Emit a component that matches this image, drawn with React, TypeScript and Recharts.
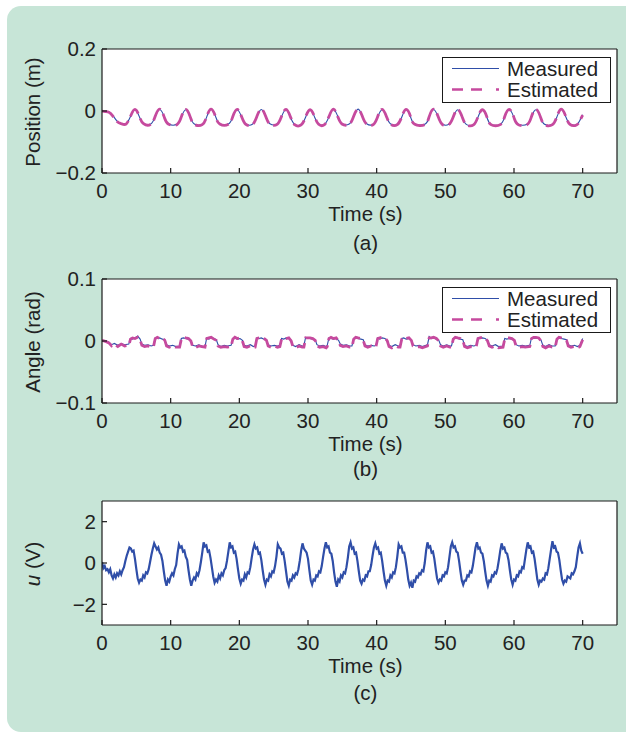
import React from 'react'
import { LineChart, Line, XAxis, YAxis, CartesianGrid, Legend } from 'recharts'

const FONT = '"Liberation Sans", Arial, Helvetica, sans-serif'
const TEXT = '#222'
const FRAME = '#1a1a1a'
const BLUE = '#2f4ea8'
const MAGENTA = '#c64a9e'
const PANEL = '#c7e5d7'
const FS = 20.5

const TIME_TICKS = [0, 10, 20, 30, 40, 50, 60, 70]
const POS_TICKS = [-0.2, 0, 0.2]
const ANGLE_TICKS = [-0.1, 0, 0.1]
const U_TICKS = [-2, 0, 2]

// (a) cart position, m
const posTime = [
  0, 0.5, 1.0, 1.5, 2.2, 2.8, 3.5, 4.15, 4.8, 5.45, 6.05,
  7.1, 7.75, 8.4, 9.05, 9.65,
  10.9, 11.55, 12.2, 12.85, 13.45,
  14.6, 15.25, 15.9, 16.55, 17.15,
  18.4, 19.05, 19.7, 20.35, 20.95,
  21.9, 22.55, 23.2, 23.85, 24.45,
  25.5, 26.15, 26.8, 27.45, 28.05,
  29.0, 29.65, 30.3, 30.95, 31.55,
  32.4, 33.05, 33.7, 34.35, 34.95,
  36.0, 36.65, 37.3, 37.95, 38.55,
  39.5, 40.15, 40.8, 41.45, 42.05,
  43.0, 43.65, 44.3, 44.95, 45.55,
  47.0, 47.65, 48.3, 48.95, 49.55,
  50.5, 51.15, 51.8, 52.45, 53.05,
  54.1, 54.75, 55.4, 56.05, 56.65,
  58.0, 58.65, 59.3, 59.95, 60.55,
  61.9, 62.55, 63.2, 63.85, 64.45,
  65.6, 66.25, 66.9, 67.55, 68.15,
  69.1, 69.6, 70.0,
]
const posMeasured = [
  0.0, -0.001, -0.003, -0.012, -0.033, -0.04, -0.041, -0.018, 0.004, -0.019, -0.04,
  -0.042, -0.018, 0.005, -0.018, -0.041,
  -0.043, -0.02, 0.004, -0.02, -0.042,
  -0.043, -0.019, 0.006, -0.018, -0.041,
  -0.042, -0.019, 0.004, -0.02, -0.042,
  -0.043, -0.019, 0.005, -0.019, -0.041,
  -0.042, -0.018, 0.004, -0.02, -0.043,
  -0.044, -0.02, 0.003, -0.019, -0.042,
  -0.043, -0.019, 0.005, -0.018, -0.041,
  -0.042, -0.018, 0.006, -0.018, -0.041,
  -0.043, -0.019, 0.004, -0.02, -0.042,
  -0.043, -0.02, 0.004, -0.02, -0.042,
  -0.043, -0.019, 0.005, -0.019, -0.042,
  -0.043, -0.02, 0.004, -0.02, -0.043,
  -0.044, -0.02, 0.003, -0.02, -0.043,
  -0.043, -0.019, 0.004, -0.019, -0.042,
  -0.043, -0.019, 0.004, -0.02, -0.043,
  -0.043, -0.019, 0.005, -0.019, -0.042,
  -0.044, -0.03, -0.012,
]
const posEstimated = [
  0.0, -0.002, -0.004, -0.014, -0.034, -0.041, -0.042, -0.017, 0.005, -0.018, -0.041,
  -0.043, -0.017, 0.006, -0.019, -0.042,
  -0.044, -0.019, 0.005, -0.019, -0.043,
  -0.044, -0.018, 0.006, -0.019, -0.042,
  -0.043, -0.018, 0.005, -0.019, -0.043,
  -0.044, -0.018, 0.006, -0.018, -0.042,
  -0.043, -0.017, 0.005, -0.019, -0.044,
  -0.045, -0.019, 0.004, -0.018, -0.043,
  -0.044, -0.018, 0.006, -0.019, -0.042,
  -0.043, -0.017, 0.006, -0.019, -0.042,
  -0.044, -0.018, 0.005, -0.019, -0.043,
  -0.044, -0.019, 0.005, -0.019, -0.043,
  -0.044, -0.018, 0.006, -0.018, -0.043,
  -0.044, -0.019, 0.005, -0.019, -0.044,
  -0.045, -0.019, 0.004, -0.019, -0.044,
  -0.044, -0.018, 0.005, -0.018, -0.043,
  -0.044, -0.018, 0.005, -0.019, -0.044,
  -0.044, -0.018, 0.006, -0.018, -0.043,
  -0.045, -0.031, -0.013,
]

// (b) pendulum angle, rad
const angleTime = [
  0, 0.6, 1.0, 1.4, 1.8, 2.3, 2.8, 3.3,
  3.9, 4.15, 4.45, 4.8, 5.2, 5.55, 5.8, 6.2, 6.7, 7.15,
  7.5, 7.75, 8.05, 8.4, 8.8, 9.15, 9.4, 9.8, 10.3, 10.75,
  11.3, 11.55, 11.85, 12.2, 12.6, 12.95, 13.2, 13.6, 14.1, 14.55,
  15.0, 15.25, 15.55, 15.9, 16.3, 16.65, 16.9, 17.3, 17.8, 18.25,
  18.8, 19.05, 19.35, 19.7, 20.1, 20.45, 20.7, 21.1, 21.6, 22.05,
  22.3, 22.55, 22.85, 23.2, 23.6, 23.95, 24.2, 24.6, 25.1, 25.55,
  25.9, 26.15, 26.45, 26.8, 27.2, 27.55, 27.8, 28.2, 28.7, 29.15,
  29.4, 29.65, 29.95, 30.3, 30.7, 31.05, 31.3, 31.7, 32.2, 32.65,
  32.8, 33.05, 33.35, 33.7, 34.1, 34.45, 34.7, 35.1, 35.6, 36.05,
  36.4, 36.65, 36.95, 37.3, 37.7, 38.05, 38.3, 38.7, 39.2, 39.65,
  39.9, 40.15, 40.45, 40.8, 41.2, 41.55, 41.8, 42.2, 42.7, 43.15,
  43.4, 43.65, 43.95, 44.3, 44.7, 45.05, 45.3, 45.7, 46.2, 46.65,
  47.4, 47.65, 47.95, 48.3, 48.7, 49.05, 49.3, 49.7, 50.2, 50.65,
  50.9, 51.15, 51.45, 51.8, 52.2, 52.55, 52.8, 53.2, 53.7, 54.15,
  54.5, 54.75, 55.05, 55.4, 55.8, 56.15, 56.4, 56.8, 57.3, 57.75,
  58.4, 58.65, 58.95, 59.3, 59.7, 60.05, 60.3, 60.7, 61.2, 61.65,
  62.3, 62.55, 62.85, 63.2, 63.6, 63.95, 64.2, 64.6, 65.1, 65.55,
  66.0, 66.25, 66.55, 66.9, 67.3, 67.65, 67.9, 68.3, 68.8, 69.25,
  69.6, 70.0,
]
const angleMeasured = [
  0.0, 0.0, -0.002, -0.006, -0.004, -0.007, -0.004, -0.006,
  -0.005, 0.004, 0.003, 0.005, 0.008, 0.003, -0.005, -0.007, -0.006, -0.008,
  -0.007, 0.005, 0.004, 0.005, 0.003, 0.002, -0.006, -0.008, -0.007, -0.009,
  -0.008, 0.004, 0.005, 0.004, 0.003, 0.001, -0.007, -0.008, -0.006, -0.008,
  -0.009, 0.005, 0.003, 0.005, 0.004, 0.002, -0.006, -0.009, -0.007, -0.008,
  -0.007, 0.004, 0.005, 0.003, 0.004, 0.001, -0.007, -0.008, -0.006, -0.009,
  -0.008, 0.005, 0.004, 0.005, 0.003, 0.002, -0.006, -0.008, -0.007, -0.008,
  -0.007, 0.004, 0.003, 0.005, 0.004, 0.001, -0.007, -0.009, -0.006, -0.008,
  -0.008, 0.006, 0.004, 0.004, 0.003, 0.002, -0.006, -0.008, -0.007, -0.009,
  -0.007, 0.005, 0.004, 0.003, 0.004, 0.001, -0.005, -0.007, -0.006, -0.008,
  -0.008, 0.004, 0.005, 0.004, 0.003, 0.002, -0.006, -0.008, -0.007, -0.008,
  -0.007, 0.005, 0.003, 0.005, 0.004, 0.001, -0.007, -0.009, -0.006, -0.008,
  -0.008, 0.004, 0.005, 0.003, 0.004, 0.002, -0.006, -0.008, -0.007, -0.009,
  -0.006, 0.007, 0.004, 0.005, 0.003, 0.001, -0.006, -0.008, -0.006, -0.008,
  -0.008, 0.004, 0.005, 0.004, 0.003, 0.002, -0.007, -0.009, -0.007, -0.008,
  -0.007, 0.005, 0.004, 0.005, 0.004, 0.001, -0.006, -0.008, -0.006, -0.009,
  -0.008, 0.004, 0.003, 0.004, 0.003, 0.002, -0.006, -0.008, -0.007, -0.008,
  -0.007, 0.005, 0.004, 0.005, 0.004, 0.001, -0.007, -0.009, -0.006, -0.008,
  -0.008, 0.004, 0.005, 0.004, 0.003, 0.002, -0.006, -0.008, -0.007, -0.009,
  -0.007, 0.004,
]
const angleEstimated = [
  0.001, -0.001, -0.003, -0.008, -0.005, -0.009, -0.005, -0.008,
  -0.007, 0.003, 0.005, 0.004, 0.006, 0.002, -0.007, -0.009, -0.008, -0.01,
  -0.009, 0.004, 0.006, 0.004, 0.005, 0.001, -0.008, -0.01, -0.008, -0.01,
  -0.01, 0.003, 0.006, 0.005, 0.004, 0.0, -0.009, -0.011, -0.008, -0.009,
  -0.01, 0.004, 0.005, 0.006, 0.003, 0.001, -0.008, -0.01, -0.009, -0.01,
  -0.009, 0.003, 0.006, 0.004, 0.005, 0.0, -0.009, -0.01, -0.008, -0.011,
  -0.01, 0.004, 0.005, 0.006, 0.004, 0.001, -0.008, -0.01, -0.008, -0.01,
  -0.009, 0.003, 0.005, 0.004, 0.005, 0.0, -0.009, -0.011, -0.008, -0.01,
  -0.01, 0.005, 0.005, 0.005, 0.004, 0.001, -0.008, -0.01, -0.009, -0.011,
  -0.009, 0.004, 0.006, 0.004, 0.005, 0.0, -0.007, -0.009, -0.008, -0.01,
  -0.01, 0.003, 0.006, 0.005, 0.004, 0.001, -0.008, -0.01, -0.008, -0.01,
  -0.009, 0.004, 0.005, 0.006, 0.005, 0.0, -0.009, -0.011, -0.008, -0.01,
  -0.01, 0.003, 0.006, 0.004, 0.005, 0.001, -0.008, -0.01, -0.009, -0.011,
  -0.008, 0.005, 0.005, 0.006, 0.004, 0.0, -0.008, -0.01, -0.008, -0.01,
  -0.01, 0.003, 0.006, 0.005, 0.004, 0.001, -0.009, -0.011, -0.009, -0.01,
  -0.009, 0.004, 0.005, 0.006, 0.005, 0.0, -0.008, -0.01, -0.008, -0.011,
  -0.01, 0.003, 0.005, 0.005, 0.004, 0.001, -0.008, -0.01, -0.009, -0.01,
  -0.009, 0.004, 0.006, 0.006, 0.005, 0.0, -0.009, -0.011, -0.008, -0.01,
  -0.01, 0.003, 0.006, 0.005, 0.004, 0.001, -0.008, -0.01, -0.009, -0.011,
  -0.009, 0.002,
]

// (c) control voltage, V, sampled every U_DT seconds
const U_DT = 0.2
const uVolts = [
  0.05, -0.25, -0.15, -0.35, -0.3, -0.45, -0.3, -0.6, -0.75, -0.55,
  -0.7, -0.5, -0.6, -0.4, -0.55, -0.35, -0.2, 0.1, 0.35, 0.55,
  0.75, 0.7, 0.55, 0.6, 0.2, -0.3, -0.75, -0.95, -0.8, -0.85,
  -0.6, -0.7, -0.45, -0.5, -0.3, 0.05, 0.4, 0.7, 0.95, 0.8,
  0.65, 0.75, 0.5, 0.4, 0.1, -0.4, -0.85, -1.1, -0.8, -0.9,
  -0.65, -0.5, -0.6, -0.3, -0.1, 0.45, 0.9, 0.75, 0.8, 0.55,
  0.6, 0.3, 0.15, -0.35, -0.8, -1.1, -0.85, -0.7, -0.8, -0.5,
  -0.6, -0.35, 0.05, 0.5, 1.0, 0.8, 0.85, 0.55, 0.6, 0.25,
  -0.2, -0.65, -0.95, -0.8, -0.9, -0.6, -0.75, -0.5, -0.6, -0.35,
  -0.25, 0.1, 0.55, 1.0, 0.75, 0.8, 0.5, 0.55, 0.2, -0.3,
  -0.75, -1.0, -0.8, -0.85, -0.55, -0.7, -0.45, -0.5, -0.2, 0.25,
  0.65, 0.9, 0.7, 0.75, 0.45, 0.5, 0.15, -0.35, -0.8, -1.05,
  -0.8, -0.85, -0.55, -0.65, -0.4, -0.45, -0.15, 0.3, 0.9, 0.75,
  0.7, 0.45, 0.5, 0.1, -0.4, -0.9, -1.1, -0.8, -0.85, -0.6,
  -0.7, -0.5, -0.55, -0.3, 0.1, 0.6, 0.95, 0.7, 0.6, 0.5,
  0.2, -0.35, -0.85, -1.05, -0.8, -0.85, -0.6, -0.65, -0.4, -0.45,
  -0.15, 0.3, 0.7, 1.0, 0.75, 0.8, 0.5, 0.45, 0.1, -0.45,
  -0.9, -1.15, -0.8, -0.9, -0.6, -0.7, -0.45, -0.5, -0.2, 0.25,
  0.8, 1.0, 0.7, 0.75, 0.45, 0.5, 0.1, -0.4, -0.85, -1.0,
  -0.8, -0.85, -0.6, -0.65, -0.4, -0.4, -0.1, 0.35, 0.75, 0.95,
  0.7, 0.75, 0.45, 0.5, 0.1, -0.4, -0.85, -1.1, -0.85, -0.9,
  -0.6, -0.7, -0.45, -0.5, -0.2, 0.3, 0.9, 0.75, 0.8, 0.5,
  0.5, 0.15, -0.3, -0.8, -1.1, -0.95, -1.2, -0.85, -0.9, -0.65,
  -0.7, -0.5, -0.55, -0.35, -0.4, 0.0, 0.6, 1.0, 0.75, 0.8,
  0.5, 0.55, 0.2, -0.3, -0.75, -0.95, -0.8, -0.85, -0.6, -0.65,
  -0.45, -0.5, -0.2, 0.3, 0.8, 1.0, 0.75, 0.8, 0.55, 0.5,
  0.1, -0.4, -0.85, -1.05, -0.85, -0.85, -0.6, -0.65, -0.4, -0.45,
  -0.15, 0.3, 0.75, 1.0, 0.7, 0.75, 0.5, 0.45, 0.1, -0.4,
  -0.85, -1.1, -0.85, -0.9, -0.6, -0.65, -0.45, -0.5, -0.25, 0.15,
  0.6, 0.95, 0.7, 0.75, 0.5, 0.45, 0.15, -0.35, -0.8, -1.05,
  -0.8, -0.85, -0.6, -0.65, -0.4, -0.45, -0.2, -0.25, 0.2, 0.65,
  1.0, 0.75, 0.8, 0.5, 0.55, 0.2, -0.3, -0.8, -1.05, -0.85,
  -0.9, -0.75, -0.8, -0.5, -0.55, -0.25, 0.2, 0.65, 1.05, 0.75,
  0.8, 0.55, 0.5, 0.15, -0.35, -0.8, -1.0, -0.85, -0.9, -0.65,
  -0.7, -0.75, -0.5, -0.55, -0.4, -0.2, 0.3, 0.75, 0.95, 0.6,
  0.45,
]

const posData = posTime.map((t, i) => ({ t, measured: posMeasured[i], estimated: posEstimated[i] }))
const angleData = angleTime.map((t, i) => ({ t, measured: angleMeasured[i], estimated: angleEstimated[i] }))
const uData = uVolts.map((u, i) => ({ t: +(i * U_DT).toFixed(1), u }))

const fmtTick = (v: number) => (v < 0 ? `\u2212${Math.abs(v)}` : `${v}`)

const textStyle = { fill: TEXT, fontSize: FS, fontFamily: FONT }

const LEGEND_ORDER = ['measured', 'estimated']

function LegendBox({ payload }: any) {
  const rows = [...(payload || [])].sort(
    (a: any, b: any) => LEGEND_ORDER.indexOf(a.dataKey) - LEGEND_ORDER.indexOf(b.dataKey)
  )
  return (
    <div style={{ width: 169, height: 46, boxSizing: 'border-box', border: `1.5px solid ${FRAME}`, background: '#fff' }}>
      <svg width={166} height={43} style={{ display: 'block' }}>
        {rows.map((entry: any, i: number) => {
          const y = 10.5 + i * 21
          const dashed = entry.dataKey === 'estimated'
          return (
            <g key={entry.value}>
              <line
                x1={9}
                x2={56}
                y1={y}
                y2={y}
                stroke={entry.color}
                strokeWidth={dashed ? 2.6 : 1.1}
                strokeDasharray={dashed ? '11 8 11 14 3 20' : undefined}
              />
              <text x={64} y={y + 7.5} {...textStyle}>
                {entry.value}
              </text>
            </g>
          )
        })}
      </svg>
    </div>
  )
}

const timeTitle = (caption: string, captionDy: number) => (props: any) => {
  const vb = props.viewBox || { x: 102, y: 0, width: 515 }
  const cx = vb.x + vb.width / 2 + 6
  return (
    <g>
      <text x={cx} y={vb.y + 48} textAnchor="middle" {...textStyle}>
        Time (s)
      </text>
      <text x={cx} y={vb.y + captionDy} textAnchor="middle" {...textStyle}>
        {caption}
      </text>
    </g>
  )
}

const valueTitle = (title: React.ReactNode) => (props: any) => {
  const vb = props.viewBox || { x: 101, y: 0, height: 124 }
  const x = vb.x - 61
  const y = vb.y + vb.height / 2 + 1
  return (
    <text x={x} y={y} transform={`rotate(-90 ${x} ${y})`} textAnchor="middle" {...textStyle}>
      {title}
    </text>
  )
}

interface SubPlotProps {
  top: number
  height: number
  plotTop: number
  data: any[]
  yDomain: [number, number]
  yTicks: number[]
  yTitle: React.ReactNode
  caption: string
  captionDy: number
  children: React.ReactNode
  legend?: boolean
}

const PLOT_H = 124
// axes need a non-zero box to be drawn; 1px each, taken out of the margins
const AX = 1

function SubPlot({ top, height, plotTop, data, yDomain, yTicks, yTitle, caption, captionDy, children, legend }: SubPlotProps) {
  return (
    <div style={{ position: 'absolute', left: 0, top }}>
      <LineChart
        width={626}
        height={height}
        data={data}
        margin={{ top: plotTop - AX, right: 9 - AX, bottom: height - plotTop - PLOT_H - AX, left: 102 - AX }}
      >
        <CartesianGrid fill="#fff" stroke="none" horizontal={false} vertical={false} />
        <XAxis
          dataKey="t"
          type="number"
          domain={[0, 75]}
          ticks={TIME_TICKS}
          height={AX}
          tickSize={-5}
          tickMargin={15}
          stroke={FRAME}
          strokeWidth={1.2}
          tick={textStyle}
          label={timeTitle(caption, captionDy)}
          allowDataOverflow
        />
        <XAxis
          xAxisId="top"
          orientation="top"
          dataKey="t"
          type="number"
          domain={[0, 75]}
          ticks={TIME_TICKS}
          height={AX}
          tickSize={-5}
          tick={false}
          stroke={FRAME}
          strokeWidth={1.2}
          allowDataOverflow
        />
        <YAxis
          type="number"
          domain={yDomain}
          ticks={yTicks}
          width={AX}
          tickSize={-5}
          tickMargin={11}
          tickFormatter={fmtTick}
          stroke={FRAME}
          strokeWidth={1.2}
          tick={textStyle}
          label={valueTitle(yTitle)}
          allowDataOverflow
        />
        <YAxis
          yAxisId="right"
          orientation="right"
          type="number"
          domain={yDomain}
          ticks={yTicks}
          width={AX}
          tickSize={-5}
          tick={false}
          stroke={FRAME}
          strokeWidth={1.2}
          allowDataOverflow
        />
        {children}
        {legend && (
          <Legend
            layout="horizontal"
            verticalAlign="middle"
            align="center"
            wrapperStyle={{ left: 442, top: plotTop + 7.7, width: 169, height: 46 }}
            content={LegendBox}
          />
        )}
      </LineChart>
    </div>
  )
}

export default function App() {
  return (
    <div style={{ position: 'absolute', left: 0, top: 0, width: 626, height: 733, overflow: 'hidden', background: '#fff' }}>
      <div
        style={{
          position: 'absolute',
          left: 7,
          top: 6,
          width: 640,
          height: 726,
          borderRadius: 14,
          background: PANEL,
        }}
      />
      <SubPlot
        top={0}
        height={260}
        plotTop={49}
        data={posData}
        yDomain={[-0.2, 0.2]}
        yTicks={POS_TICKS}
        yTitle="Position (m)"
        caption="(a)"
        captionDy={77}
        legend
      >
        <Line type="natural" dataKey="measured" name="Measured" stroke={BLUE} strokeWidth={1.1} dot={false} isAnimationActive={false} />
        <Line type="natural" dataKey="estimated" name="Estimated" stroke={MAGENTA} strokeWidth={2.8} strokeDasharray="14 5" dot={false} isAnimationActive={false} />
      </SubPlot>
      <SubPlot
        top={260}
        height={230}
        plotTop={19}
        data={angleData}
        yDomain={[-0.1, 0.1]}
        yTicks={ANGLE_TICKS}
        yTitle="Angle (rad)"
        caption="(b)"
        captionDy={73}
        legend
      >
        <Line type="linear" dataKey="measured" name="Measured" stroke={BLUE} strokeWidth={1.1} dot={false} isAnimationActive={false} />
        <Line type="linear" dataKey="estimated" name="Estimated" stroke={MAGENTA} strokeWidth={2.8} strokeDasharray="12 5" dot={false} isAnimationActive={false} />
      </SubPlot>
      <SubPlot
        top={490}
        height={243}
        plotTop={11}
        data={uData}
        yDomain={[-3, 3]}
        yTicks={U_TICKS}
        yTitle={
          <>
            <tspan fontStyle="italic">u</tspan> (V)
          </>
        }
        caption="(c)"
        captionDy={75}
      >
        <Line type="linear" dataKey="u" stroke={BLUE} strokeWidth={2.2} dot={false} isAnimationActive={false} />
      </SubPlot>
    </div>
  )
}
